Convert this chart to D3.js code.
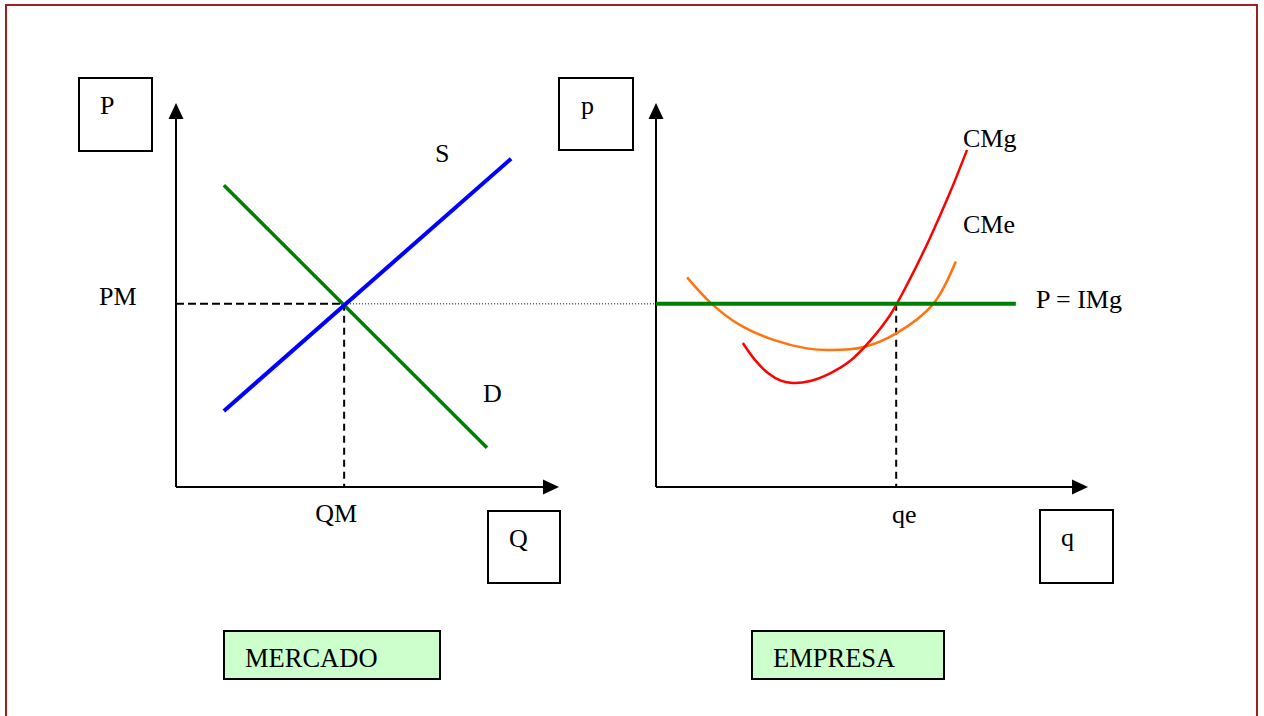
<!DOCTYPE html>
<html>
<head>
<meta charset="utf-8">
<script src="https://cdn.jsdelivr.net/npm/d3@7.9.0/dist/d3.min.js"></script>
<style>
  html, body { margin: 0; padding: 0; background: #fff; overflow: hidden; }
  svg text { font-family: "Liberation Serif", "Times New Roman", serif; font-size: 26px; fill: #000; }
</style>
</head>
<body>
<svg id="chart" width="1264" height="716"></svg>
<script>
// market (left) - straight lines, [quantity, price]
const demand = [[1.25, 7.86], [8.12, 1.02]];
const supply = [[1.25, 1.98], [8.75, 8.55]];
const QM = 4.39;
const PM = 4.77;

// firm (right) - cost curves, [q, cost]
const cme = [[0.72, 5.46], [1.29, 4.77], [1.94, 4.22], [2.72, 3.83], [3.49, 3.61],
             [4.03, 3.57], [4.79, 3.64], [5.56, 4.00], [6.42, 4.77], [6.94, 5.87]];
const cmg = [[2.01, 3.75], [2.29, 3.31], [2.59, 2.97], [2.89, 2.77], [3.17, 2.71],
             [3.57, 2.76], [4.03, 2.96], [4.49, 3.28], [4.95, 3.80], [5.42, 4.48],
             [5.88, 5.42], [6.34, 6.48], [6.81, 7.68], [7.20, 8.78]];
const qe = 5.56;
const priceLineEnd = 8.33;

const axisNames = ['P', 'Q', 'p', 'q'];
const panelTitles = ['MERCADO', 'EMPRESA'];
const curveNames = ['S', 'D', 'CMg', 'CMe', 'P = IMg'];
const eqLabels = ['PM', 'QM', 'qe'];

const svg = d3.select('#chart');

// outer frame (runs off the bottom like the original page)
svg.append('rect')
  .attr('x', 6).attr('y', 5).attr('width', 1251).attr('height', 740)
  .attr('fill', 'none').attr('stroke', '#9b2222').attr('stroke-width', 2);

const xL = d3.scaleLinear().domain([0, 10]).range([176, 559]);
const xR = d3.scaleLinear().domain([0, 10]).range([656, 1088]);
const y = d3.scaleLinear().domain([0, 10]).range([487, 103]);

function drawAxes(x){
  const g = svg.append('g');
  g.append('line').attr('x1', x(0)).attr('y1', y(0)).attr('x2', x(0)).attr('y2', y(10) + 10)
    .attr('stroke', '#000').attr('stroke-width', 2);
  g.append('line').attr('x1', x(0)).attr('y1', y(0)).attr('x2', x(10) - 10).attr('y2', y(0))
    .attr('stroke', '#000').attr('stroke-width', 2);
  // arrow heads
  g.append('path')
    .attr('d', `M${x(0)},${y(10)} L${x(0) - 7.5},${y(10) + 16} L${x(0) + 7.5},${y(10) + 16} Z`);
  g.append('path')
    .attr('d', `M${x(10)},${y(0)} L${x(10) - 16},${y(0) - 7.5} L${x(10) - 16},${y(0) + 7.5} Z`);
}
drawAxes(xL);
drawAxes(xR);

function box(x, yy, w, h, fill){
  svg.append('rect').attr('x', x).attr('y', yy).attr('width', w).attr('height', h)
    .attr('fill', fill || '#fff').attr('stroke', '#000').attr('stroke-width', 2);
}
function label(txt, x, yy){
  return svg.append('text').attr('x', x).attr('y', yy).text(txt);
}

// axis name boxes
box(79, 78, 73, 73);   label(axisNames[0], 100, 114);
box(488, 511, 72, 72); label(axisNames[1], 509, 547);
box(559, 78, 74, 72);  label(axisNames[2], 581, 114);
box(1040, 510, 73, 73); label(axisNames[3], 1061, 546);

// guide lines at equilibrium
svg.append('line')
  .attr('x1', xL(0)).attr('y1', y(PM)).attr('x2', xL(QM)).attr('y2', y(PM))
  .attr('stroke', '#000').attr('stroke-width', 2).attr('stroke-dasharray', '8,4');
svg.append('line')
  .attr('x1', xL(QM)).attr('y1', y(PM)).attr('x2', xL(QM)).attr('y2', y(0))
  .attr('stroke', '#000').attr('stroke-width', 2).attr('stroke-dasharray', '7,5');
svg.append('line')
  .attr('x1', xL(QM)).attr('y1', y(PM)).attr('x2', xR(0)).attr('y2', y(PM))
  .attr('stroke', '#000').attr('stroke-width', 1).attr('stroke-dasharray', '1,2');
svg.append('line')
  .attr('x1', xR(qe)).attr('y1', y(PM)).attr('x2', xR(qe)).attr('y2', y(0))
  .attr('stroke', '#000').attr('stroke-width', 2).attr('stroke-dasharray', '7,5');

// market curves
const lineL = d3.line().x(d => xL(d[0])).y(d => y(d[1]));
svg.append('path').attr('d', lineL(demand))
  .attr('fill', 'none').attr('stroke', '#008000').attr('stroke-width', 3.5);
svg.append('path').attr('d', lineL(supply))
  .attr('fill', 'none').attr('stroke', '#0000ff').attr('stroke-width', 4);

// firm curves
const lineR = d3.line().x(d => xR(d[0])).y(d => y(d[1])).curve(d3.curveCatmullRom.alpha(0.5));
svg.append('path').attr('d', lineR(cme))
  .attr('fill', 'none').attr('stroke', '#ff7410').attr('stroke-width', 2.5);
svg.append('path').attr('d', lineR(cmg))
  .attr('fill', 'none').attr('stroke', '#ff0000').attr('stroke-width', 2.5);
svg.append('line')
  .attr('x1', xR(0)).attr('y1', y(PM)).attr('x2', xR(priceLineEnd)).attr('y2', y(PM))
  .attr('stroke', '#008000').attr('stroke-width', 4);

// curve names
label(curveNames[0], 435, 162);
label(curveNames[1], 483, 402);
label(curveNames[2], 963, 147);
label(curveNames[3], 963, 233);
label(curveNames[4], 1036, 308);

// equilibrium labels
label(eqLabels[0], 99, 305);
label(eqLabels[1], xL(QM) - 8, 522).attr('text-anchor', 'middle');
label(eqLabels[2], 892, 523);

// panel titles
box(224, 631, 216, 48, '#ccffcc');
label(panelTitles[0], 245, 667).style('font-size', '26.5px');
box(752, 631, 192, 48, '#ccffcc');
label(panelTitles[1], 773, 667).style('font-size', '26.5px');
</script>
</body>
</html>
